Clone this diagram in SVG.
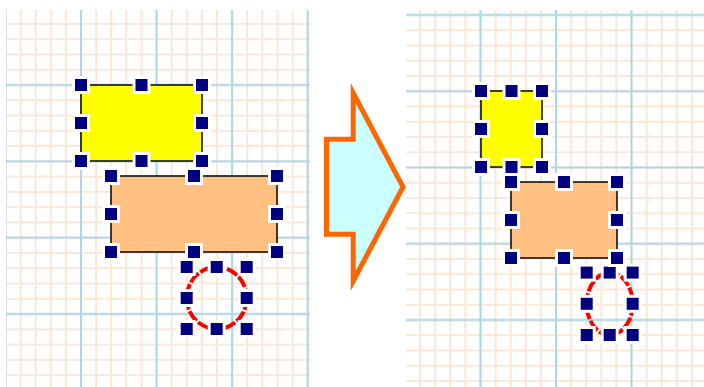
<svg xmlns="http://www.w3.org/2000/svg" xmlns:xlink="http://www.w3.org/1999/xlink" width="704" height="387" viewBox="0 0 704 387">
  <style>
    .minor { stroke: #fce7d4; stroke-width: 2; fill: none; }
    .major { stroke: #aad8e8; stroke-width: 2; fill: none; }
    .box { stroke: #111; stroke-width: 1.6; }
    .yellow { fill: #ffff00; }
    .peach { fill: #ffc082; }
    .ring { fill: none; stroke: #ff0000; stroke-width: 4; stroke-dasharray: 12 2; }
    .arrow { fill: #ccffff; stroke: #ff6600; stroke-width: 5; stroke-miterlimit: 10; }
  </style>
  <defs>
    <pattern id="minorL" patternUnits="userSpaceOnUse" x="73.445" y="77.365" width="15.11" height="15.27">
      <path class="minor" d="M7.555 0V15.27M0 7.635H15.11"/>
    </pattern>
    <pattern id="majorL" patternUnits="userSpaceOnUse" x="43.22" y="46.825" width="75.56" height="76.35">
      <path class="major" d="M37.78 0V76.35M0 38.175H75.56"/>
    </pattern>
    <pattern id="minorR" patternUnits="userSpaceOnUse" x="472.95" y="7.375" width="15.1" height="15.25">
      <path class="minor" d="M7.55 0V15.25M0 7.625H15.1"/>
    </pattern>
    <pattern id="majorR" patternUnits="userSpaceOnUse" x="442.75" y="-23.125" width="75.5" height="76.25">
      <path class="major" d="M37.75 0V76.25M0 38.125H75.5"/>
    </pattern>
    <g id="h">
      <rect x="-9" y="-9" width="18" height="18" fill="#ffffff"/>
      <rect x="-6" y="-6" width="12" height="12" fill="#000080"/>
    </g>
  </defs>

  <rect width="704" height="387" fill="#ffffff"/>

  <g id="grid-before">
    <rect x="6" y="10" width="304" height="377" fill="url(#minorL)"/>
    <rect x="6" y="10" width="304" height="377" fill="url(#majorL)"/>
  </g>
  <g id="grid-after">
    <rect x="406" y="10" width="298" height="377" fill="url(#minorR)"/>
    <rect x="406" y="10" width="298" height="377" fill="url(#majorR)"/>
  </g>

  <g id="connectors"></g>

  <g id="circle-before">
    <ellipse class="ring" cx="216.7" cy="298" rx="30" ry="31"/>
    <use xlink:href="#h" x="186.7" y="267"/>
    <use xlink:href="#h" x="216.7" y="267"/>
    <use xlink:href="#h" x="246.7" y="267"/>
    <use xlink:href="#h" x="186.7" y="298"/>
    <use xlink:href="#h" x="246.7" y="298"/>
    <use xlink:href="#h" x="186.7" y="329"/>
    <use xlink:href="#h" x="216.7" y="329"/>
    <use xlink:href="#h" x="246.7" y="329"/>
  </g>

  <g id="orange-before">
    <rect class="box peach" x="111" y="176" width="166" height="76"/>
    <use xlink:href="#h" x="111" y="176"/>
    <use xlink:href="#h" x="194" y="176"/>
    <use xlink:href="#h" x="277" y="176"/>
    <use xlink:href="#h" x="111" y="214"/>
    <use xlink:href="#h" x="277" y="214"/>
    <use xlink:href="#h" x="111" y="252"/>
    <use xlink:href="#h" x="194" y="252"/>
    <use xlink:href="#h" x="277" y="252"/>
  </g>

  <g id="yellow-before">
    <rect class="box yellow" x="81" y="85" width="121" height="76"/>
    <use xlink:href="#h" x="81" y="85"/>
    <use xlink:href="#h" x="141.5" y="85"/>
    <use xlink:href="#h" x="202" y="85"/>
    <use xlink:href="#h" x="81" y="123"/>
    <use xlink:href="#h" x="202" y="123"/>
    <use xlink:href="#h" x="81" y="161"/>
    <use xlink:href="#h" x="141.5" y="161"/>
    <use xlink:href="#h" x="202" y="161"/>
  </g>

  <g id="transform-arrow">
    <polygon class="arrow" points="326.5,139.2 353.2,139.2 353.2,93 403,187 353.2,281 353.2,234.2 326.5,234.2"/>
  </g>

  <g id="circle-after">
    <ellipse class="ring" cx="609.7" cy="303.8" rx="23" ry="31.2"/>
    <use xlink:href="#h" x="586.7" y="272.6"/>
    <use xlink:href="#h" x="609.7" y="272.6"/>
    <use xlink:href="#h" x="632.7" y="272.6"/>
    <use xlink:href="#h" x="586.7" y="303.8"/>
    <use xlink:href="#h" x="632.7" y="303.8"/>
    <use xlink:href="#h" x="586.7" y="335"/>
    <use xlink:href="#h" x="609.7" y="335"/>
    <use xlink:href="#h" x="632.7" y="335"/>
  </g>

  <g id="orange-after">
    <rect class="box peach" x="511" y="182" width="106" height="76"/>
    <use xlink:href="#h" x="511" y="182"/>
    <use xlink:href="#h" x="564" y="182"/>
    <use xlink:href="#h" x="617" y="182"/>
    <use xlink:href="#h" x="511" y="220"/>
    <use xlink:href="#h" x="617" y="220"/>
    <use xlink:href="#h" x="511" y="258"/>
    <use xlink:href="#h" x="564" y="258"/>
    <use xlink:href="#h" x="617" y="258"/>
  </g>

  <g id="yellow-after">
    <rect class="box yellow" x="481" y="91" width="61" height="76"/>
    <use xlink:href="#h" x="481" y="91"/>
    <use xlink:href="#h" x="511.5" y="91"/>
    <use xlink:href="#h" x="542" y="91"/>
    <use xlink:href="#h" x="481" y="129"/>
    <use xlink:href="#h" x="542" y="129"/>
    <use xlink:href="#h" x="481" y="167"/>
    <use xlink:href="#h" x="511.5" y="167"/>
    <use xlink:href="#h" x="542" y="167"/>
  </g>
</svg>
